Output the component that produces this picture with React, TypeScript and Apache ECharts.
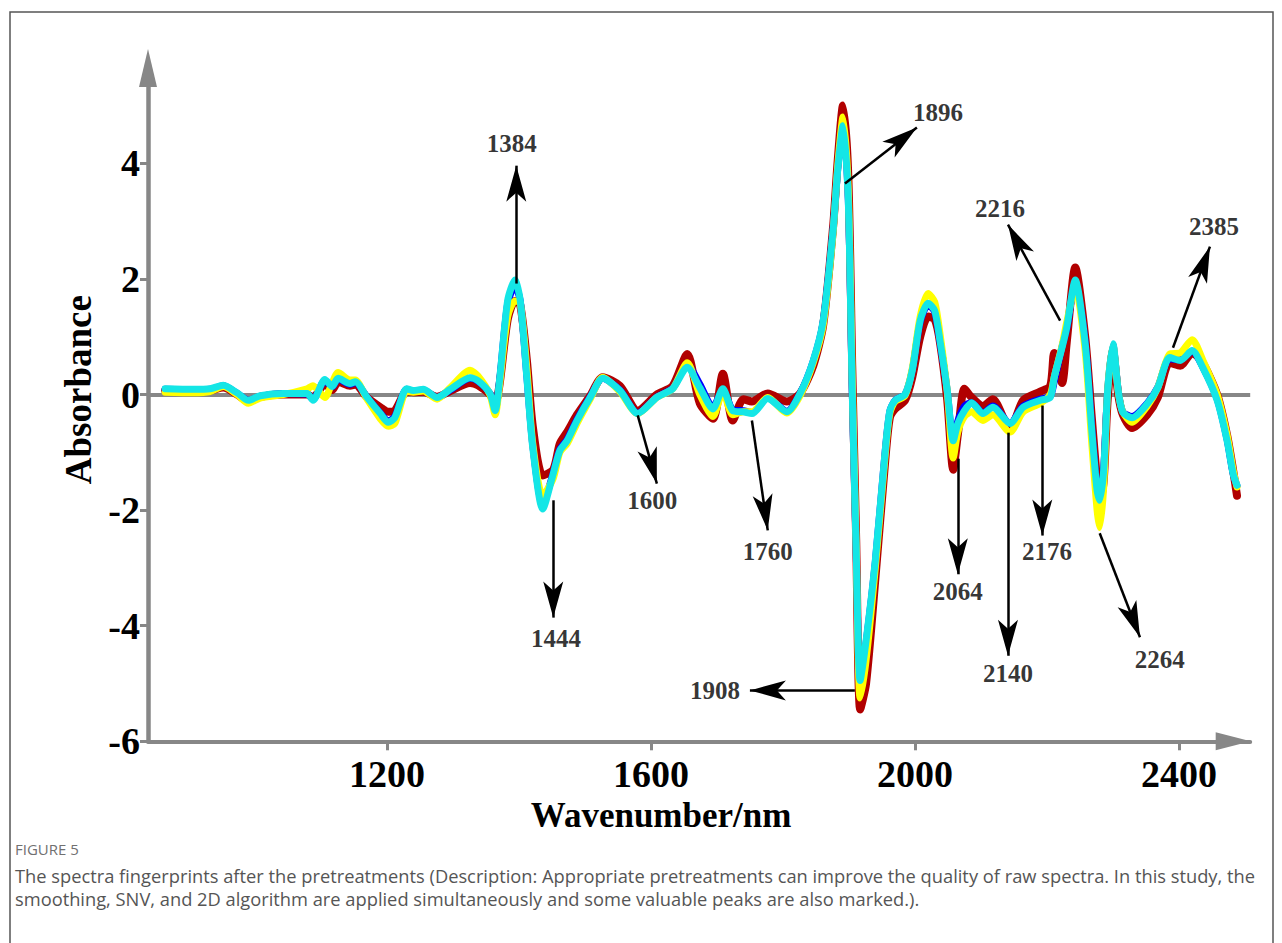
import React, { useEffect, useRef } from "react";
import * as echarts from "echarts";

// Wavenumber (nm) sampling positions shared by all spectra
const wavenumbers = [
  864, 906, 932, 952, 973, 990, 1008, 1043, 1079, 1088,
  1106, 1117, 1126, 1144, 1152, 1170, 1190, 1202, 1212, 1230,
  1240, 1255, 1276, 1296, 1326, 1338, 1356, 1364, 1371, 1383,
  1394, 1402, 1412, 1421, 1436, 1452, 1462, 1473, 1488, 1508,
  1527, 1553, 1580, 1609, 1633, 1655, 1674, 1694, 1709, 1724,
  1740, 1753, 1777, 1806, 1826, 1846, 1861, 1876, 1883, 1891,
  1899, 1905, 1911, 1917, 1926, 1940, 1955, 1962, 1970, 1985,
  1996, 2008, 2020, 2030, 2038, 2049, 2058, 2065, 2075, 2086,
  2103, 2118, 2144, 2164, 2190, 2205, 2211, 2223, 2230, 2243,
  2258, 2268, 2276, 2280, 2286, 2292, 2300, 2308, 2315, 2329,
  2352, 2368, 2386, 2402, 2420, 2436, 2458, 2473, 2482, 2488,
];

const redSpectrum = [
  0.07, 0.06, 0.07, 0.12, 0.0, -0.12, -0.04, 0.0, 0.0, -0.05,
  0.18, 0.08, 0.22, 0.15, 0.17, -0.05, -0.22, -0.3, -0.28, 0.05,
  0.04, 0.05, -0.04, 0.06, 0.2, 0.16, 0.0, -0.15, 0.2, 1.3,
  1.62, 1.55, 0.6, -0.55, -1.4, -1.3, -0.85, -0.65, -0.35, -0.02,
  0.3, 0.15, -0.28, 0.0, 0.15, 0.7, -0.15, -0.42, 0.36, -0.45,
  -0.08, -0.12, 0.02, -0.12, 0.02, 0.5, 1.2, 2.9, 4.05, 5.0,
  3.8, 0.5, -2.5, -5.45, -5.0, -3.2, -1.15, -0.4, -0.25, -0.1,
  0.3, 1.0, 1.35, 1.3, 0.9, -0.1, -1.3, -0.7, 0.1, -0.05,
  -0.2, -0.08, -0.6, -0.1, 0.05, 0.15, 0.72, 0.2, 0.9, 2.2,
  1.0, -0.4, -1.5, -1.88, -1.5, -0.1, 0.75, 0.0, -0.35, -0.58,
  -0.35, -0.05, 0.55, 0.5, 0.72, 0.55, 0.0, -0.7, -1.3, -1.75,
];

const blueSpectrum = [
  0.09, 0.08, 0.09, 0.15, 0.02, -0.1, -0.03, 0.02, 0.01, -0.08,
  0.24, 0.13, 0.27, 0.18, 0.21, -0.05, -0.32, -0.46, -0.38, 0.09,
  0.06, 0.08, -0.05, 0.08, 0.28, 0.23, 0.02, -0.26, 0.27, 1.58,
  1.88, 1.62, 0.32, -0.88, -1.9, -1.36, -0.95, -0.78, -0.43, -0.04,
  0.28, 0.08, -0.32, -0.04, 0.11, 0.52, 0.18, -0.22, 0.08, -0.26,
  -0.28, -0.31, -0.06, -0.29, 0.02, 0.58, 1.26, 2.85, 3.9, 4.7,
  3.4, 0.1, -2.68, -5.0, -4.3, -2.9, -0.98, -0.29, -0.1, 0.0,
  0.42, 1.26, 1.55, 1.43, 0.92, 0.06, -0.82, -0.46, -0.2, -0.14,
  -0.32, -0.2, -0.5, -0.2, -0.08, -0.03, 0.22, 0.83, 1.14, 1.95,
  0.9, -0.6, -1.65, -1.82, -1.3, 0.06, 0.86, 0.06, -0.3, -0.38,
  -0.15, 0.13, 0.62, 0.6, 0.75, 0.48, -0.08, -0.78, -1.36, -1.58,
];

const yellowSpectrum = [
  0.04, 0.03, 0.05, 0.14, 0.0, -0.15, -0.06, 0.0, 0.1, 0.15,
  -0.05, 0.2, 0.38, 0.25, 0.25, -0.08, -0.42, -0.55, -0.5, 0.06,
  0.04, 0.06, -0.08, 0.12, 0.42, 0.32, 0.0, -0.35, 0.2, 1.35,
  1.62, 1.58, 0.45, -0.85, -1.75, -1.45, -1.0, -0.85, -0.5, -0.08,
  0.3, 0.05, -0.33, -0.05, 0.1, 0.55, 0.0, -0.38, 0.05, -0.35,
  -0.3, -0.3, -0.05, -0.32, -0.02, 0.55, 1.2, 2.8, 3.95, 4.8,
  3.55, 0.3, -2.6, -5.25, -4.6, -3.0, -1.05, -0.32, -0.12, -0.02,
  0.45, 1.35, 1.75, 1.6, 1.05, 0.05, -1.1, -0.65, -0.38, -0.3,
  -0.45, -0.35, -0.65, -0.3, -0.15, 0.0, 0.3, 0.85, 1.25, 1.85,
  0.75, -0.85, -2.0, -2.3, -1.6, 0.05, 0.85, 0.05, -0.3, -0.48,
  -0.2, 0.12, 0.7, 0.72, 0.95, 0.6, 0.0, -0.7, -1.3, -1.6,
];

const cyanSpectrum = [
  0.1, 0.09, 0.1, 0.16, 0.03, -0.1, -0.02, 0.02, 0.02, -0.1,
  0.26, 0.14, 0.28, 0.19, 0.22, -0.05, -0.33, -0.48, -0.4, 0.1,
  0.07, 0.09, -0.05, 0.09, 0.29, 0.24, 0.02, -0.28, 0.29, 1.63,
  1.98, 1.63, 0.29, -0.92, -1.98, -1.37, -0.97, -0.8, -0.45, -0.05,
  0.28, 0.07, -0.33, -0.05, 0.1, 0.47, 0.12, -0.25, 0.1, -0.28,
  -0.3, -0.33, -0.07, -0.3, 0.02, 0.59, 1.28, 2.84, 3.88, 4.65,
  3.36, 0.07, -2.7, -4.95, -4.26, -2.87, -0.97, -0.28, -0.1, 0.0,
  0.42, 1.28, 1.58, 1.45, 0.93, 0.07, -0.8, -0.5, -0.28, -0.14,
  -0.33, -0.22, -0.5, -0.22, -0.1, -0.05, 0.3, 0.82, 1.16, 1.98,
  0.88, -0.62, -1.66, -1.83, -1.31, 0.07, 0.88, 0.07, -0.31, -0.4,
  -0.16, 0.12, 0.64, 0.59, 0.76, 0.47, -0.1, -0.8, -1.37, -1.57,
];

const xTickValues = [1200, 1600, 2000, 2400];
const yTickValues = [-6, -4, -2, 0, 2, 4];

// Marked peaks: label, arrow start (on the spectrum), arrow tip, label anchor
const peakNames = ["1384", "1444", "1600", "1760", "1896", "1908", "2064", "2140", "2176", "2216", "2264", "2385"];
const arrowFrom: [number, number][] = [
  [1396, 1.92], [1452, -1.83], [1580, -0.36], [1753, -0.45], [1894, 3.65], [1909, -5.12],
  [2065, -1.11], [2141, -0.66], [2193, -0.19], [2220, 1.28], [2280, -2.4], [2391, 0.81],
];
const arrowTo: [number, number][] = [
  [1396, 3.96], [1452, -3.86], [1609, -1.54], [1777, -2.35], [2003, 4.62], [1750, -5.12],
  [2065, -3.11], [2141, -4.52], [2193, -2.44], [2141, 2.94], [2341, -4.2], [2447, 2.56],
];
const labelAt: [number, number][] = [
  [1389, 4.34], [1456, -4.22], [1602, -1.83], [1777, -2.72], [2035, 4.88], [1697, -5.12],
  [2065, -3.41], [2141, -4.83], [2200, -2.72], [2129, 3.22], [2371, -4.58], [2453, 2.91],
];

const captionTitle = "FIGURE 5";
const captionLines = [
  "The spectra fingerprints after the pretreatments (Description: Appropriate pretreatments can improve the quality of raw spectra. In this study, the",
  "smoothing, SNV, and 2D algorithm are applied simultaneously and some valuable peaks are also marked.).",
];

const SERIF = '"Liberation Serif", "Times New Roman", serif';
const SANS = '"Open Sans", "Noto Sans", sans-serif';
const AXIS_GRAY = "#878787";

export default function App() {
  const ref = useRef<HTMLDivElement>(null);

  useEffect(() => {
    if (!ref.current) return;
    const chart = echarts.init(ref.current, undefined, { renderer: "svg" });

    const pairs = (vals: number[]) => wavenumbers.map((w, i) => [w, vals[i]]);
    const spectrum = (name: string, vals: number[], color: string, width: number) => ({
      name,
      type: "line",
      data: pairs(vals),
      showSymbol: false,
      symbol: "none",
      smooth: 0.25,
      lineStyle: { color, width, cap: "round", join: "round" },
      emphasis: { disabled: true },
      silent: true,
    });

    const red: any = spectrum("s1", redSpectrum, "#b10000", 8);
    red.markLine = {
      silent: true,
      z: 1,
      symbol: ["none", "none"],
      label: { show: false },
      lineStyle: { color: AXIS_GRAY, width: 4, type: "solid" },
      data: [{ yAxis: 0 }],
    };

    const option: any = {
      animation: false,
      backgroundColor: "#ffffff",
      grid: {
        left: 148,
        top: 68,
        width: 1102.2,
        height: 673.3,
        containLabel: false,
        outerBoundsMode: "none",
      },
      xAxis: {
        type: "value",
        min: 838,
        max: 2508,
        splitLine: { show: false },
        axisLine: {
          show: true,
          onZero: false,
          symbol: ["none", "triangle"],
          symbolSize: [18, 35],
          symbolOffset: [0, -17],
          lineStyle: { color: AXIS_GRAY, width: 4 },
        },
        axisTick: { show: true, customValues: xTickValues, length: 9, lineStyle: { color: AXIS_GRAY, width: 3 } },
        axisLabel: {
          customValues: xTickValues,
          formatter: (v: number) => String(v),
          margin: 14,
          fontSize: 38,
          fontWeight: "bold",
          fontFamily: SERIF,
          color: "#000",
        },
        name: "Wavenumber/nm",
        nameLocation: "middle",
        nameGap: 56,
        nameTextStyle: {
          fontSize: 35,
          fontWeight: "bold",
          fontFamily: SERIF,
          color: "#000",
          padding: [0, 76, 0, 0],
        },
      },
      yAxis: {
        type: "value",
        min: -6,
        max: 5.65,
        splitLine: { show: false },
        axisLine: {
          show: true,
          onZero: false,
          symbol: ["none", "triangle"],
          symbolSize: [18, 38],
          lineStyle: { color: AXIS_GRAY, width: 4.5 },
        },
        axisTick: { show: true, customValues: yTickValues, length: 8, lineStyle: { color: AXIS_GRAY, width: 3 } },
        axisLabel: {
          customValues: yTickValues,
          formatter: (v: number) => String(v),
          margin: 8,
          fontSize: 38,
          fontWeight: "bold",
          fontFamily: SERIF,
          color: "#000",
        },
        name: "Absorbance",
        nameLocation: "middle",
        nameGap: 51,
        nameRotate: 90,
        nameTextStyle: {
          fontSize: 37,
          fontWeight: "bold",
          fontFamily: SERIF,
          color: "#000",
          padding: [0, 0, 0, 30],
        },
      },
      series: [
        red,
        spectrum("s2", blueSpectrum, "#0000ff", 7),
        spectrum("s3", yellowSpectrum, "#ffff00", 7),
        spectrum("s4", cyanSpectrum, "#14e6e6", 7),
        {
          name: "peaks",
          type: "scatter",
          z: 6,
          silent: true,
          symbolSize: 1,
          itemStyle: { color: "rgba(0,0,0,0)" },
          data: peakNames.map((n, i) => ({ name: n, value: labelAt[i] })),
          label: {
            show: true,
            position: "inside",
            formatter: "{b}",
            fontSize: 25,
            fontWeight: "bold",
            fontFamily: SERIF,
            color: "#000",
          },
          markLine: {
            silent: true,
            z: 6,
            symbol: ["none", "arrow"],
            label: { show: false },
            lineStyle: { color: "#000", width: 2.5, type: "solid" },
            data: peakNames.map((_, i) => [
              { coord: arrowFrom[i], symbol: "none" },
              { coord: arrowTo[i], symbol: "arrow", symbolSize: [15, 36] },
            ]),
          },
        },
      ],
      graphic: [
        {
          type: "rect",
          silent: true,
          z: -10,
          shape: { x: 10, y: 12, width: 1263, height: 960 },
          style: { fill: "none", stroke: "#555", lineWidth: 1.5 },
        },
        {
          type: "text",
          silent: true,
          x: 15,
          y: 849,
          style: { text: captionTitle, fontSize: 15, fontFamily: SANS, fill: "#707070", verticalAlign: "middle" },
        },
        ...captionLines.map((line, i) => ({
          type: "text",
          silent: true,
          x: 15,
          y: 875 + i * 23,
          style: { text: line, fontSize: 18.3, fontFamily: SANS, fill: "#555", verticalAlign: "middle" },
        })),
      ],
    };

    chart.setOption(option);
    return () => chart.dispose();
  }, []);

  return (
    <div
      ref={ref}
      style={{ position: "fixed", left: 0, top: 0, width: 1282, height: 943, background: "#fff" }}
    />
  );
}
